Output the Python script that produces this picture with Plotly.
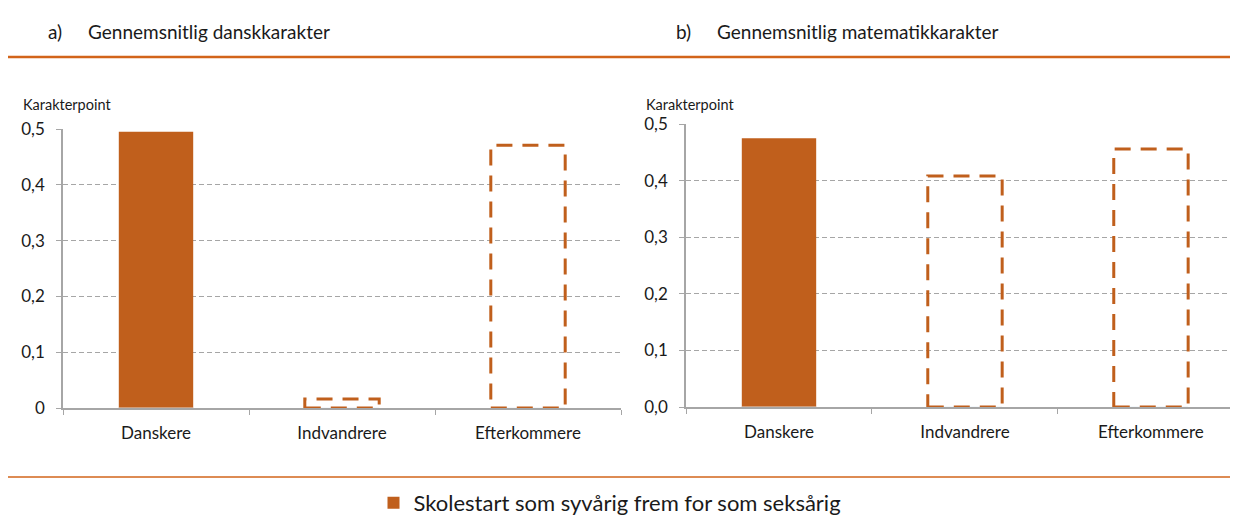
import plotly.graph_objects as go

categories = ["Danskere", "Indvandrere", "Efterkommere"]
dansk_values = [0.495, 0.016, 0.471]
mat_values = [0.475, 0.408, 0.456]
solid_mask = [True, False, False]
y_tickvals = [0, 0.1, 0.2, 0.3, 0.4, 0.5]
y_ticktext_a = ["0", "0,1", "0,2", "0,3", "0,4", "0,5"]
y_ticktext_b = ["0,0", "0,1", "0,2", "0,3", "0,4", "0,5"]
legend_label = "Skolestart som syvårig frem for som seksårig"
title_a = "Gennemsnitlig danskkarakter"
title_b = "Gennemsnitlig matematikkarakter"
y_title = "Karakterpoint"

ORANGE = "#C05F1C"
LINE_ORANGE = "#D2641A"
GRAY = "#A6A6A6"
FONT = "Lato"
OFF = 8  # page body margin
W, H = 1238 - OFF, 529 - OFF
BAR_W = 0.4


def fx(px):
    return (px - OFF) / W


def fy(py):
    return 1 - (py - OFF) / H


fig = go.Figure()


def add_panel(values, xa, ya, show_legend):
    solid_x = [c for c, s in zip(categories, solid_mask) if s]
    solid_y = [v for v, s in zip(values, solid_mask) if s]
    fig.add_trace(go.Bar(
        x=solid_x, y=solid_y, width=BAR_W, marker_color=ORANGE,
        marker_line_width=0, name=legend_label, showlegend=show_legend,
        xaxis=xa, yaxis=ya, hoverinfo="skip"))
    # keep all categories on the axis
    fig.add_trace(go.Bar(x=categories, y=[0, 0, 0], width=BAR_W,
                         marker_color="rgba(0,0,0,0)", showlegend=False,
                         xaxis=xa, yaxis=ya, hoverinfo="skip"))
    for i, (v, s) in enumerate(zip(values, solid_mask)):
        if not s:
            fig.add_shape(type="rect", xref=xa, yref=ya,
                          x0=i - BAR_W / 2, x1=i + BAR_W / 2, y0=0, y1=v,
                          line=dict(color=ORANGE, width=3, dash="16px,10px"),
                          fillcolor="rgba(0,0,0,0)", layer="above")


add_panel(dansk_values, "x", "y", True)
add_panel(mat_values, "x2", "y2", False)

xcommon = dict(type="category", showgrid=False, showline=True, linecolor=GRAY,
               linewidth=1.5, ticks="outside", tickson="boundaries", ticklen=5,
               tickcolor=GRAY, tickfont=dict(family=FONT, size=17, color="#1a1a1a"),
               ticklabelstandoff=9, zeroline=False, fixedrange=True, automargin=False)
ycommon = dict(range=[0, 0.5], tickvals=y_tickvals, showgrid=True, gridcolor=GRAY,
               gridwidth=1, griddash="5px,3px", showline=True, linecolor=GRAY,
               linewidth=1.5, ticks="outside", ticklen=5, tickcolor=GRAY,
               tickfont=dict(family=FONT, size=17, color="#1a1a1a"),
               ticklabelstandoff=8, zeroline=False, fixedrange=True, automargin=False)

fig.update_layout(
    width=W, height=H, margin=dict(l=0, r=0, t=0, b=0, pad=0, autoexpand=False),
    paper_bgcolor="white", plot_bgcolor="white", barmode="overlay",
    xaxis=dict(xcommon, domain=[fx(63), fx(621)], range=[-0.5, 2.5], anchor="y"),
    yaxis=dict(ycommon, domain=[fy(408), fy(129)], ticktext=y_ticktext_a, anchor="x"),
    xaxis2=dict(xcommon, domain=[fx(686), 1.0], range=[-0.5, 2.468], anchor="y2"),
    yaxis2=dict(ycommon, domain=[fy(407), fy(124)], ticktext=y_ticktext_b, anchor="x2"),
    legend=dict(orientation="h", x=fx(610), xanchor="center", y=fy(503), yanchor="middle",
                font=dict(family=FONT, size=22, color="#1a1a1a"),
                bgcolor="rgba(0,0,0,0)"),
    showlegend=True,
)

# header/footer rules
fig.add_shape(type="line", xref="paper", yref="paper", x0=0, x1=1,
              y0=fy(57), y1=fy(57), line=dict(color=LINE_ORANGE, width=2.5))
fig.add_shape(type="line", xref="paper", yref="paper", x0=0, x1=1,
              y0=fy(477), y1=fy(477), line=dict(color=LINE_ORANGE, width=1.3))


def ann(text, x, y, size, anchor="left"):
    fig.add_annotation(text=text, xref="paper", yref="paper", x=fx(x), y=fy(y),
                       xanchor=anchor, yanchor="middle", showarrow=False,
                       borderpad=0, font=dict(family=FONT, size=size, color="#1a1a1a"))


ann("a)", 47, 32, 19)
ann(title_a, 87, 32, 19)
ann("b)", 675, 32, 19)
ann(title_b, 716, 32, 19)
ann(y_title, 22, 104, 14.5)
ann(y_title, 645, 104, 14.5)

fig.write_html("out.html")
